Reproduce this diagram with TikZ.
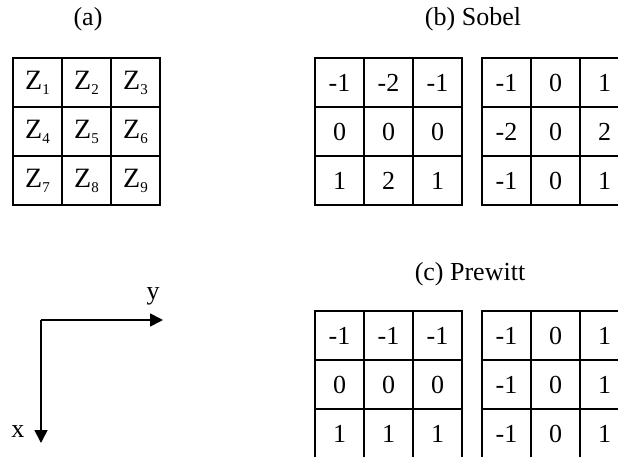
\documentclass[tikz,border=0pt]{standalone}
\usepackage{fontspec}
\setmainfont{Liberation Serif}
\usetikzlibrary{arrows.meta,positioning}
\tikzstyle{cell}=[
draw,
line width=1.4pt,
minimum size=49pt,
inner sep=0pt,
font=\fontsize{26}{28}\selectfont
]
\tikzstyle{title}=[
font=\fontsize{26}{28}\selectfont
]
\tikzstyle{axis}=[
line width=1.6pt,
-{Triangle[length=13pt,width=13pt]}
]
\newcommand{\zsub}[1]{\fontsize{28}{30}\selectfont Z\raisebox{-0.4ex}{\fontsize{15}{15}\selectfont #1}}

\begin{document}
\begin{tikzpicture}[x=1pt,y=-1pt]

\clip (0,0) rectangle (618,457);
\useasboundingbox (0,0) rectangle (618,457);

% titles
\node (ta) [title] at (88,19) {(a)};
\node (tb) [title] at (473,19) {(b) Sobel};
\node (tc) [title] at (470,274) {(c) Prewitt};

% (a) neighbourhood
\foreach \n [count=\i from 0] in {1,...,9} {
  \pgfmathtruncatemacro{\r}{\i/3}
  \pgfmathtruncatemacro{\c}{mod(\i,3)}
  \node (z\n) [cell] at (37.5+49*\c,82.5+49*\r) {\zsub{\n}};
}

% (b) Sobel
\foreach \v [count=\i from 0] in {-1,-2,-1,0,0,0,1,2,1} {
  \pgfmathtruncatemacro{\r}{\i/3}
  \pgfmathtruncatemacro{\c}{mod(\i,3)}
  \node (sx\i) [cell] at (339.5+49*\c,82.5+49*\r) {\v};
}
\foreach \v [count=\i from 0] in {-1,0,1,-2,0,2,-1,0,1} {
  \pgfmathtruncatemacro{\r}{\i/3}
  \pgfmathtruncatemacro{\c}{mod(\i,3)}
  \node (sy\i) [cell] at (506.5+49*\c,82.5+49*\r) {\v};
}

% (c) Prewitt
\foreach \v [count=\i from 0] in {-1,-1,-1,0,0,0,1,1,1} {
  \pgfmathtruncatemacro{\r}{\i/3}
  \pgfmathtruncatemacro{\c}{mod(\i,3)}
  \node (px\i) [cell] at (339.5+49*\c,335.5+49*\r) {\v};
}
\foreach \v [count=\i from 0] in {-1,0,1,-1,0,1,-1,0,1} {
  \pgfmathtruncatemacro{\r}{\i/3}
  \pgfmathtruncatemacro{\c}{mod(\i,3)}
  \node (py\i) [cell] at (506.5+49*\c,335.5+49*\r) {\v};
}

% axes
\coordinate (origin) at (41,320);
\coordinate (yend) at (163,320);
\coordinate (xend) at (41,443);
\draw [axis] (origin) -- (yend);
\draw [axis] (origin) -- (xend);
\node (ylab) [title] at (153,296) {y};
\node (xlab) [title] at (18,432) {x};

\end{tikzpicture}
\end{document}
